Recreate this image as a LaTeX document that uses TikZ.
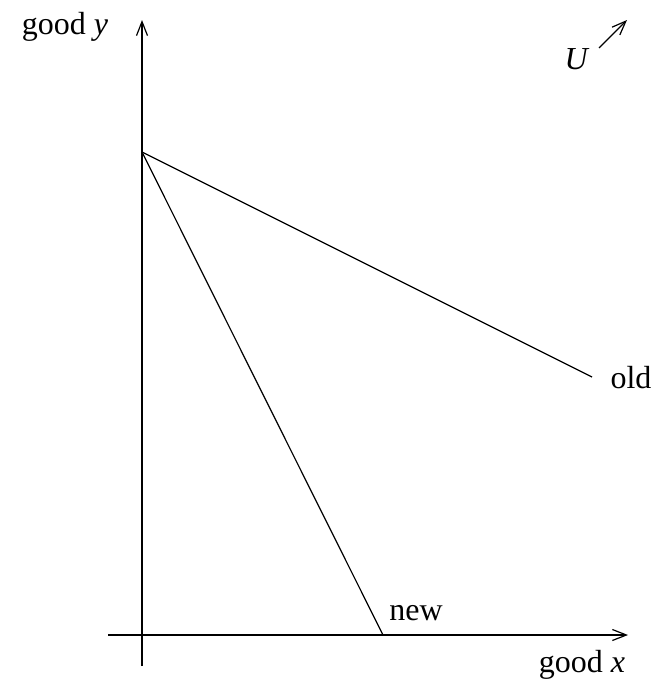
\documentclass[tikz,border=0pt]{standalone}
\usepackage{fontspec}
\setmainfont{Liberation Serif}
\usetikzlibrary{arrows.meta}
\begin{document}
\begin{tikzpicture}[x=0.5pt,y=-0.5pt,
  ax/.style={line width=0.6pt,-{Straight Barb[length=7pt,width=5.5pt]}},
  ln/.style={line width=0.6pt},
  lbl/.style={inner sep=0pt,font=\fontsize{16}{19}\selectfont}]
\useasboundingbox (0,0) rectangle (654,680);
\coordinate (ybot) at (142,666);
\coordinate (ytop) at (142,20);
\coordinate (xl) at (108,635);
\coordinate (xr) at (628,635);
\coordinate (p) at (142,152);
\coordinate (oldend) at (592,377);
\coordinate (newend) at (383,635);
\coordinate (ua) at (599,48);
\coordinate (ub) at (627,20);
\draw[ax] (ybot) -- (ytop);
\draw[ax] (xl) -- (xr);
\draw[ln] (p) -- (oldend);
\draw[ln] (p) -- (newend);
\draw[ax] (ua) -- (ub);
\node[lbl] (gy) at (65,27) {good \textit{y}};
\node[lbl] (gx) at (582,665) {good \textit{x}};
\node[lbl] (u) at (577,59) {\textit{U}};
\node[lbl] (old) at (631,378) {old};
\node[lbl] (new) at (416,613) {new};
\end{tikzpicture}
\end{document}
